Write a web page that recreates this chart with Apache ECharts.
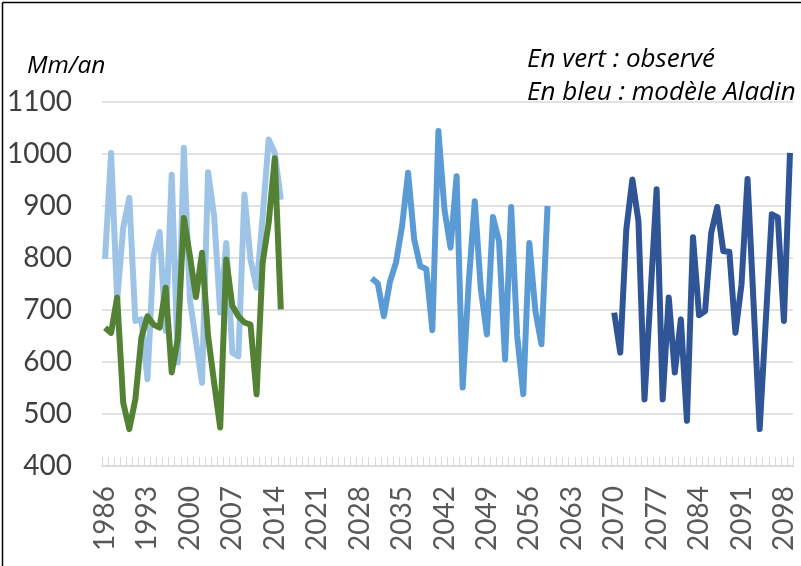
<!DOCTYPE html>
<html>
<head>
<meta charset="utf-8">
<script src="https://cdn.jsdelivr.net/npm/echarts@6/dist/echarts.min.js"></script>
<style>
html,body{margin:0;padding:0;background:#fff;}
#c{width:801px;height:566px;}
</style>
</head>
<body>
<div id="c"></div>
<script>
// Years on the category axis
var startYear = 1986, endYear = 2099;
var years = [];
for (var y = startYear; y <= endYear; y++) years.push(String(y));

// Observed (green), 1986-2015
var observedYears = ['1986','1987','1988','1989','1990','1991','1992','1993','1994','1995','1996','1997','1998','1999','2000','2001','2002','2003','2004','2005','2006','2007','2008','2009','2010','2011','2012','2013','2014','2015'];
var observed = [666,656,724,522,471,528,647,688,672,666,743,580,644,877,804,725,810,650,560,474,797,708,688,676,672,538,791,868,992,701];

// Aladin model, reference period 1986-2015 (light blue)
var modelHist = [798,1002,720,858,916,679,682,567,804,850,660,960,599,1012,720,640,560,965,880,695,829,618,611,922,797,743,880,1028,1002,912];

// Aladin model, 2030-2059 (medium blue)
var modelMidYears = ['2030','2031','2032','2033','2034','2035','2036','2037','2038','2039','2040','2041','2042','2043','2044','2045','2046','2047','2048','2049','2050','2051','2052','2053','2054','2055','2056','2057','2058','2059'];
var modelMid = [761,751,688,754,791,861,964,836,784,779,661,1044,893,820,957,551,752,909,740,653,879,832,605,898,650,538,829,698,634,900];

// Aladin model, 2070-2099 (dark blue)
var modelFarYears = ['2070','2071','2072','2073','2074','2075','2076','2077','2078','2079','2080','2081','2082','2083','2084','2085','2086','2087','2088','2089','2090','2091','2092','2093','2094','2095','2096','2097','2098','2099'];
var modelFar = [695,618,855,951,871,528,730,932,528,724,580,682,487,840,690,698,848,898,813,812,656,749,952,712,471,677,884,878,679,1002];

var yTicks = {min:400, max:1100, interval:100};

function pairs(ys, vals){ return ys.map(function(y,i){ return [y, vals[i]]; }); }

var chart = echarts.init(document.getElementById('c'), null, {renderer:'canvas'});
var lineCommon = {type:'line', showSymbol:false, symbol:'none', smooth:false};
chart.setOption({
  animation:false,
  backgroundColor:'#ffffff',
  grid:{left:102, right:8, top:102, bottom:100, containLabel:false},
  xAxis:{
    type:'category', data:years, boundaryGap:true,
    axisLine:{show:true, lineStyle:{color:'#d9d9d9', width:1.5}},
    axisTick:{show:true, inside:true, length:9, interval:0, lineStyle:{color:'#d9d9d9', width:1}},
    axisLabel:{interval:6, rotate:90, margin:20, color:'#595959', fontFamily:'Lato', fontSize:28},
    splitLine:{show:false}
  },
  yAxis:{
    type:'value', min:yTicks.min, max:yTicks.max, interval:yTicks.interval,
    axisLine:{show:false}, axisTick:{show:false},
    axisLabel:{color:'#404040', fontFamily:'Lato', fontSize:28, margin:30, formatter:function(v){return String(v);}},
    splitLine:{show:true, lineStyle:{color:'#d9d9d9', width:1.5}}
  },
  series:[
    Object.assign({}, lineCommon, {name:'hist', data:pairs(observedYears, modelHist), itemStyle:{color:'#9dc3e6'}, lineStyle:{width:6, color:'#9dc3e6', join:'round'}}),
    Object.assign({}, lineCommon, {name:'obs', data:pairs(observedYears, observed), itemStyle:{color:'#548235'}, lineStyle:{width:6, color:'#548235', join:'round'}}),
    Object.assign({}, lineCommon, {name:'mid', data:pairs(modelMidYears, modelMid), itemStyle:{color:'#5b9bd5'}, lineStyle:{width:6, color:'#5b9bd5', join:'round'}}),
    Object.assign({}, lineCommon, {name:'far', data:pairs(modelFarYears, modelFar), itemStyle:{color:'#2f5597'}, lineStyle:{width:6, color:'#2f5597', join:'round'}})
  ],
  graphic:[
    {type:'line', shape:{x1:2.5, y1:2.5, x2:801, y2:2.5}, style:{stroke:'#000', lineWidth:1.5}},
    {type:'line', shape:{x1:2.5, y1:2.5, x2:2.5, y2:566}, style:{stroke:'#000', lineWidth:1.5}},
    {type:'text', left:27, top:54, style:{text:'Mm/an', font:'italic 24.5px "Open Sans"', fill:'#000'}},
    {type:'text', left:527, top:47, style:{text:'En vert : observé', font:'italic 26px "Open Sans"', fill:'#000'}},
    {type:'text', left:527, top:80, style:{text:'En bleu : modèle Aladin', font:'italic 26px "Open Sans"', fill:'#000'}}
  ]
});
</script>
</body>
</html>
